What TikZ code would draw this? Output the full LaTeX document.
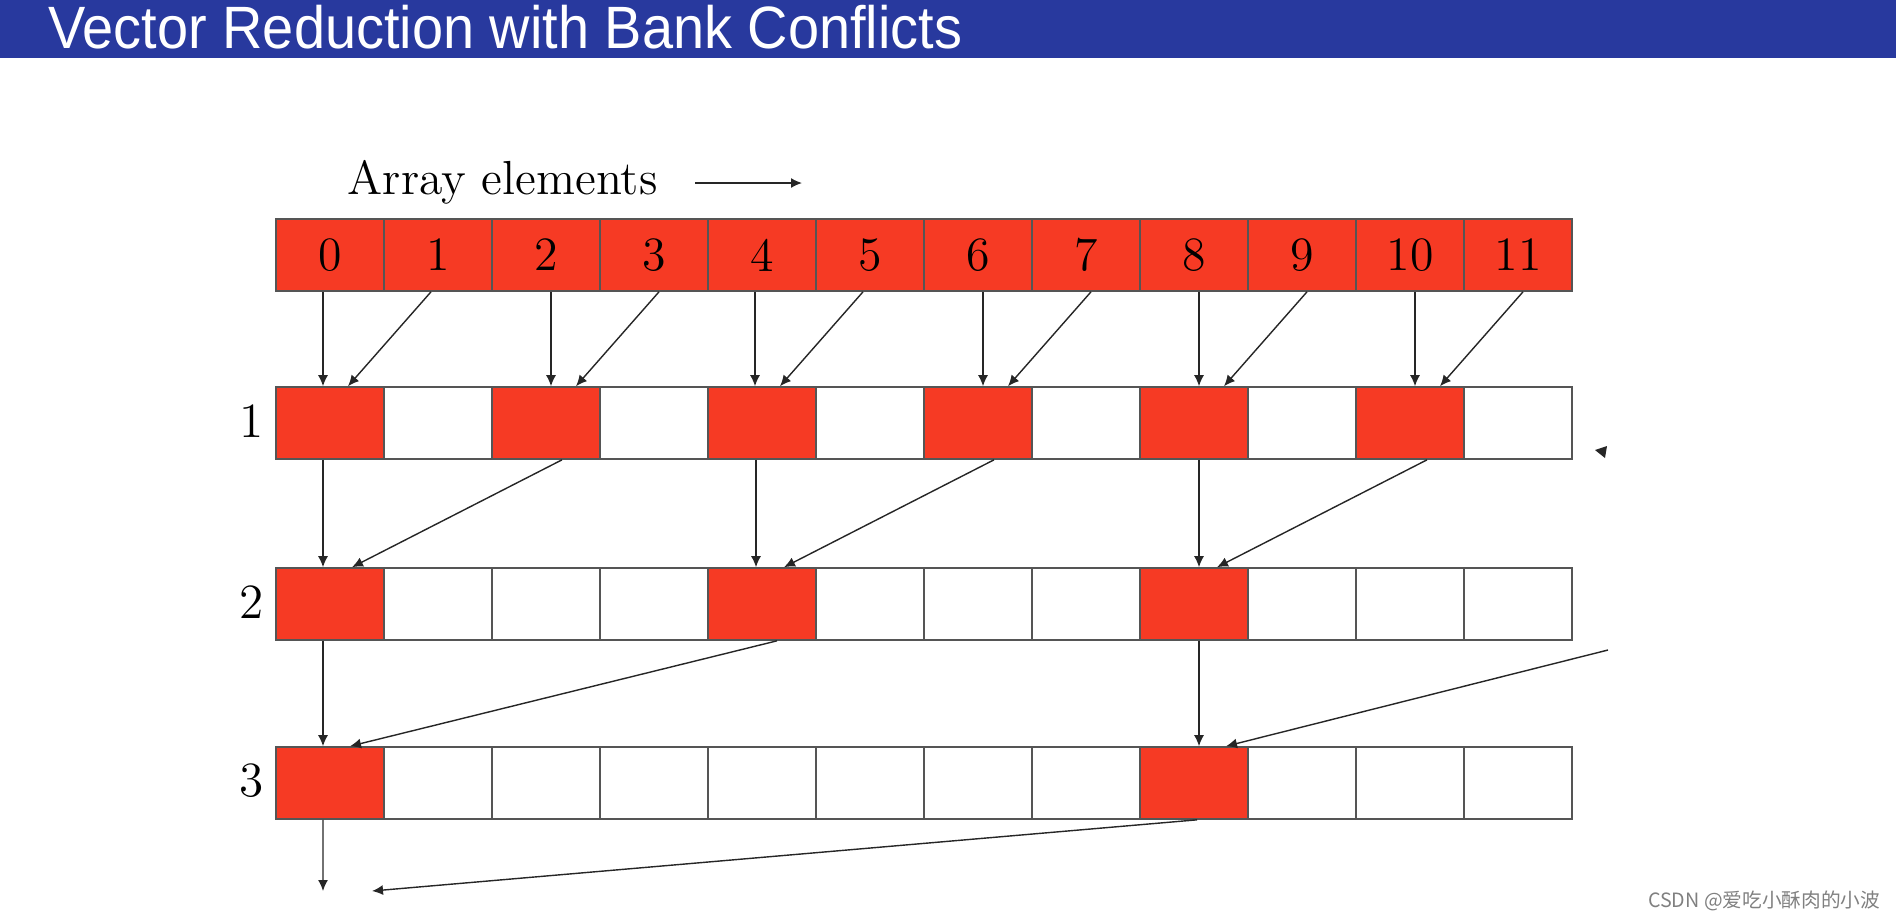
\documentclass[tikz,border=0pt]{standalone}
\usepackage{fontspec}
\newfontfamily\titlefont{Liberation Sans}
\newfontfamily\cjkfont{Noto Sans CJK SC}
\usetikzlibrary{arrows.meta}
\definecolor{slideblue}{RGB}{40,57,158}
\definecolor{cellred}{RGB}{246,58,36}
\definecolor{cellline}{RGB}{85,85,85}
\tikzset{
    cell/.style={rectangle,draw=cellline,line width=0.45pt,minimum width=1.08cm,minimum height=0.72cm,inner sep=0pt,font=\fontsize{13.6}{16}\selectfont},
    hot/.style={cell,fill=cellred},
    moveline/.style={draw=black!85,line width=0.4pt,-{Latex[length=0.11cm,width=0.1cm]}}
}
\begin{document}
\begin{tikzpicture}[x=0.01cm,y=-0.01cm]
            \useasboundingbox (0,0) rectangle (1896,920);
            \fill[slideblue] (0,0) rectangle (1896,58);
            \node[anchor=base west,inner sep=0pt,text=white,xscale=0.935,font=\titlefont\fontsize{17}{19}\selectfont] (title) at (48,48) {Vector Reduction with Bank Conflicts};

            \node[anchor=base west,inner sep=0pt,font=\fontsize{13.6}{16}\selectfont] (elems) at (347,194) {Array elements};
            \coordinate (elemtail) at (695,183);
            \coordinate (elemhead) at (802,183);
            \draw[moveline] (elemtail) -- (elemhead);

            \foreach \x in {0,...,11}
                {
                    \node[hot] (a\x) at (330+108*\x, 255) {\x};
                }

            \foreach \r / \y / \s in {1/421/2, 2/602/4, 3/781/8}
                {
                    \node[inner sep=0pt,font=\fontsize{14}{16}\selectfont] (lab\r) at (252, \y) {\r};
                    \foreach \x in {0,...,11}
                        {
                            \pgfmathtruncatemacro{\m}{mod(\x,\s)}
                            \ifnum\m=0
                                \node[hot] (r\r c\x) at (330+108*\x, \y+2) {};
                            \else
                                \node[cell] (r\r c\x) at (330+108*\x, \y+2) {};
                            \fi
                        }
                }

            \foreach \p / \o in {0/-7, 2/5, 4/-7, 6/5, 8/5, 10/5}
                {
                    \pgfmathtruncatemacro{\q}{\p+1}
                    \draw[moveline] ([xshift=\o*0.01cm]a\p.south) -- ([xshift=\o*0.01cm]r1c\p.north);
                    \draw[moveline] ([xshift=\o*0.01cm]a\q.south) -- ([xshift=(\o+25)*0.01cm]r1c\p.north);
                }

            \foreach \p / \o / \d in {0/-7/16, 4/-6/16, 8/5/17}
                {
                    \pgfmathtruncatemacro{\q}{\p+2}
                    \draw[moveline] ([xshift=\o*0.01cm]r1c\p.south) -- ([xshift=\o*0.01cm]r2c\p.north);
                    \draw[moveline] ([xshift=\d*0.01cm]r1c\q.south) -- ([xshift=(\d+6)*0.01cm]r2c\p.north);
                }

            \coordinate (outside) at (1608,650);
            \draw[moveline] ([xshift=-0.07cm]r2c0.south) -- ([xshift=-0.07cm]r3c0.north);
            \draw[moveline] ([xshift=0.05cm]r2c8.south) -- ([xshift=0.05cm]r3c8.north);
            \draw[moveline] ([xshift=0.15cm]r2c4.south) -- ([xshift=0.2cm]r3c0.north);
            \draw[moveline] (outside) -- ([xshift=0.32cm]r3c8.north);

            \coordinate (sumdown) at (323,891);
            \coordinate (sumleft) at (372,891);
            \draw[moveline] ([xshift=-0.07cm]r3c0.south) -- (sumdown);
            \draw[moveline] ([xshift=0.03cm]r3c8.south) -- (sumleft);

            \fill[black!85] (1595,450) -- (1607,446) -- (1605,458) -- cycle;

            \node[anchor=east,inner sep=0pt,text=black!50,font=\cjkfont\fontsize{5.6}{7}\selectfont] (mark) at (1881,901) {CSDN @爱吃小酥肉的小波};
\end{tikzpicture}
\end{document}
